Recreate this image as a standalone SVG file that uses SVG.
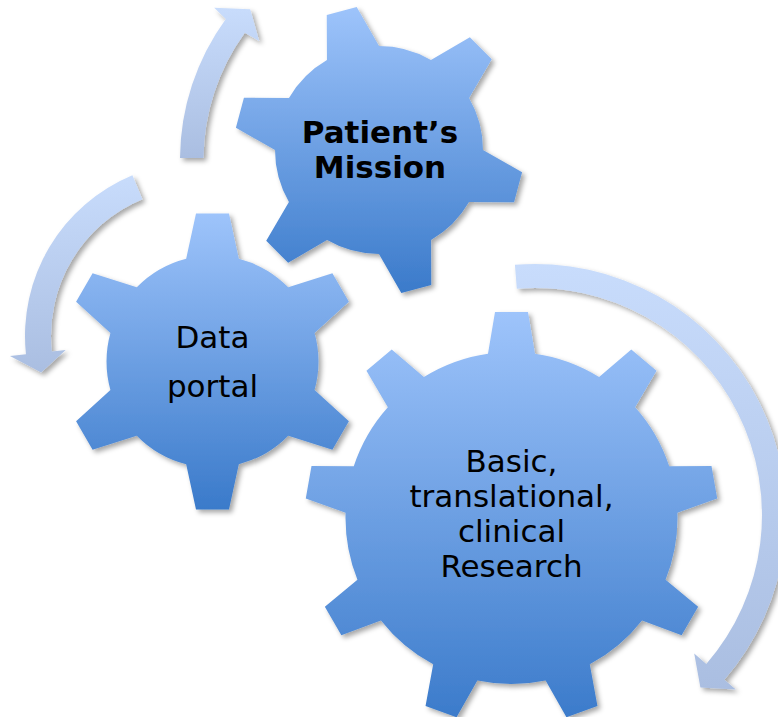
<svg xmlns="http://www.w3.org/2000/svg" width="778" height="717" viewBox="0 0 778 717">
<style>
.lbl{font-family:"DejaVu Sans","Verdana",sans-serif;fill:#000;text-anchor:middle}
.reg{font-size:31px}
.bold{font-size:31px;font-weight:bold}
.arrow{fill:url(#arrowGrad)}
.gear{fill:url(#gearGrad)}
</style>
<defs>
<linearGradient id="gearGrad" x1="0" y1="0" x2="0" y2="1">
<stop offset="0" stop-color="#9EC4FB"/>
<stop offset="1" stop-color="#3A7ACA"/>
</linearGradient>
<linearGradient id="arrowGrad" x1="0" y1="0" x2="0" y2="1">
<stop offset="0" stop-color="#C8DCFC"/>
<stop offset="1" stop-color="#AABEE1"/>
</linearGradient>
<filter id="shadow" x="-10%" y="-10%" width="125%" height="125%">
<feDropShadow dx="3" dy="3" stdDeviation="2.5" flood-color="#000" flood-opacity="0.35"/>
</filter>
<clipPath id="clip1">
<circle cx="379" cy="150" r="104"/>
<polygon transform="translate(379 150) rotate(-15)" points="-29.2,-92 -15.5,-144 15.5,-144 29.2,-92"/>
<polygon transform="translate(379 150) rotate(45)" points="-29.2,-92 -15.5,-144 15.5,-144 29.2,-92"/>
<polygon transform="translate(379 150) rotate(105)" points="-29.2,-92 -15.5,-144 15.5,-144 29.2,-92"/>
<polygon transform="translate(379 150) rotate(165)" points="-29.2,-92 -15.5,-144 15.5,-144 29.2,-92"/>
<polygon transform="translate(379 150) rotate(225)" points="-29.2,-92 -15.5,-144 15.5,-144 29.2,-92"/>
<polygon transform="translate(379 150) rotate(285)" points="-29.2,-92 -15.5,-144 15.5,-144 29.2,-92"/>
</clipPath>
<clipPath id="clip2">
<circle cx="212.5" cy="361.5" r="106"/>
<polygon transform="translate(212.5 361.5) rotate(0)" points="-28,-95 -16.5,-148 16.5,-148 28,-95"/>
<polygon transform="translate(212.5 361.5) rotate(60)" points="-28,-95 -16.5,-148 16.5,-148 28,-95"/>
<polygon transform="translate(212.5 361.5) rotate(120)" points="-28,-95 -16.5,-148 16.5,-148 28,-95"/>
<polygon transform="translate(212.5 361.5) rotate(180)" points="-28,-95 -16.5,-148 16.5,-148 28,-95"/>
<polygon transform="translate(212.5 361.5) rotate(240)" points="-28,-95 -16.5,-148 16.5,-148 28,-95"/>
<polygon transform="translate(212.5 361.5) rotate(300)" points="-28,-95 -16.5,-148 16.5,-148 28,-95"/>
</clipPath>
<clipPath id="clip3">
<circle cx="511.5" cy="518" r="166"/>
<polygon transform="translate(511.5 518) rotate(0)" points="-25.1,-155 -16.5,-206 16.5,-206 25.1,-155"/>
<polygon transform="translate(511.5 518) rotate(40)" points="-25.1,-155 -16.5,-206 16.5,-206 25.1,-155"/>
<polygon transform="translate(511.5 518) rotate(80)" points="-25.1,-155 -16.5,-206 16.5,-206 25.1,-155"/>
<polygon transform="translate(511.5 518) rotate(120)" points="-25.1,-155 -16.5,-206 16.5,-206 25.1,-155"/>
<polygon transform="translate(511.5 518) rotate(160)" points="-25.1,-155 -16.5,-206 16.5,-206 25.1,-155"/>
<polygon transform="translate(511.5 518) rotate(200)" points="-25.1,-155 -16.5,-206 16.5,-206 25.1,-155"/>
<polygon transform="translate(511.5 518) rotate(240)" points="-25.1,-155 -16.5,-206 16.5,-206 25.1,-155"/>
<polygon transform="translate(511.5 518) rotate(280)" points="-25.1,-155 -16.5,-206 16.5,-206 25.1,-155"/>
<polygon transform="translate(511.5 518) rotate(320)" points="-25.1,-155 -16.5,-206 16.5,-206 25.1,-155"/>
</clipPath>
</defs>
<rect width="778" height="717" fill="#FFFFFF"/>
<g id="connectors" filter="url(#shadow)">
<path class="arrow" d="M180.0,157.9 A240,240 0 0 1 225.8,18.9 L214.2,7.7 L250.2,9.3 L259.2,41.0 L244.8,32.7 A216.5,216.5 0 0 0 203.5,158.1 Z"/>
<path class="arrow" d="M132.4,175.2 A174,174 0 0 0 25.95,354.2 L10.0,355.9 L41.2,372.4 L65.7,350.0 L51.8,351.5 A148,148 0 0 1 142.4,199.3 Z"/>
<path class="arrow" d="M514.9,264.8 A251,251 0 0 1 724.4,679.7 L735.8,689.5 L700.4,687.5 L694.2,653.4 L706.3,663.9 A227,227 0 0 0 516.8,288.7 Z"/>
</g>
<g id="gear-research">
<g filter="url(#shadow)"><rect class="gear" x="300" y="312" width="424" height="412" clip-path="url(#clip3)"/></g>
<text class="lbl reg" x="511.5" y="472">Basic,</text>
<text class="lbl reg" x="511.5" y="507">translational,</text>
<text class="lbl reg" x="511.5" y="542">clinical</text>
<text class="lbl reg" x="511.5" y="577">Research</text>
</g>
<g id="gear-data">
<g filter="url(#shadow)"><rect class="gear" x="64" y="213" width="297" height="297" clip-path="url(#clip2)"/></g>
<text class="lbl reg" x="212.5" y="348">Data</text>
<text class="lbl reg" x="212.5" y="397">portal</text>
</g>
<g id="gear-mission">
<g filter="url(#shadow)"><rect class="gear" x="235" y="6" width="288" height="288" clip-path="url(#clip1)"/></g>
<text class="lbl bold" x="380" y="143">Patient’s</text>
<text class="lbl bold" x="380" y="178">Mission</text>
</g>
</svg>
